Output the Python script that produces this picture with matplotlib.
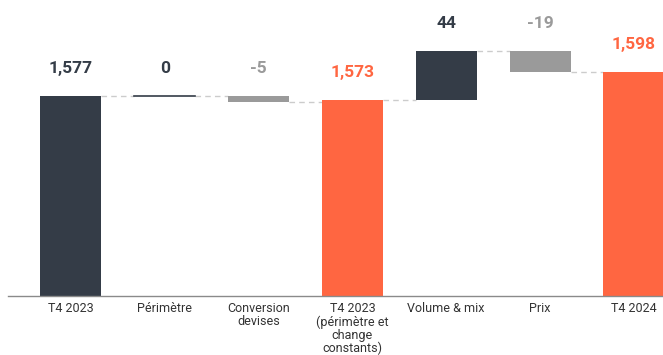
import matplotlib.pyplot as plt

plt.rcParams['font.family'] = ['Roboto', 'DejaVu Sans']

categories = ["T4 2023", "Périmètre", "Conversion\ndevises",
              "T4 2023\n(périmètre et\nchange\nconstants)",
              "Volume & mix", "Prix", "T4 2024"]
values = [1577, 0, -5, 1573, 44, -19, 1598]
kinds = ["total", "delta", "delta", "total", "delta", "delta", "total"]

DARK = "#343c47"
GREY = "#9a9a9a"
ORANGE = "#ff6641"


def bar_color(i, kind, value):
    if kind == "total":
        return DARK if i == 0 else ORANGE
    return GREY if value < 0 else DARK


fig = plt.figure(figsize=(6.63, 3.55), dpi=100)
ax = fig.add_axes([8 / 663, 1 - 295.7 / 355, 1 - 8 / 663, 295.7 / 355])

floor = 1400
width = 0.65
level = 0
levels = []
for i, (v, kind) in enumerate(zip(values, kinds)):
    color = bar_color(i, kind, v)
    if kind == "total":
        bottom, top = floor, v
        ax.bar(i, v - floor, width, bottom=floor, color=color, zorder=2)
        level = v
    else:
        start = level
        level = level + v
        bottom, top = min(start, level), max(start, level)
        if v == 0:
            ax.plot([i - width / 2, i + width / 2], [start, start],
                    color=color, lw=1.2, zorder=2)
        else:
            ax.bar(i, top - bottom, width, bottom=bottom, color=color, zorder=2)
    levels.append(level)
    label = f"{v:,}"
    ax.annotate(label, (i, top), xytext=(0, 20), textcoords="offset points",
                ha="center", va="center", fontsize=12.5, fontweight="bold",
                color=color)

# dashed connectors between consecutive bars
for i in range(len(values) - 1):
    y = levels[i]
    ax.plot([i + width / 2, i + 1 - width / 2], [y, y], color="#cccccc",
            lw=1, ls=(0, (4, 3)), zorder=1)

ax.set_xlim(-0.67, 6.31)
ax.set_ylim(floor, 1662)
ax.set_xticks(range(len(categories)))
ax.set_xticklabels(categories, fontsize=9, color="#333333", linespacing=1.02)
ax.tick_params(axis="x", length=0, pad=4.5)
ax.set_yticks([])
for side in ["top", "right", "left"]:
    ax.spines[side].set_visible(False)
ax.spines["bottom"].set_color("#8a8a8a")
ax.spines["bottom"].set_linewidth(1)

fig.savefig("out.png", dpi=100)
